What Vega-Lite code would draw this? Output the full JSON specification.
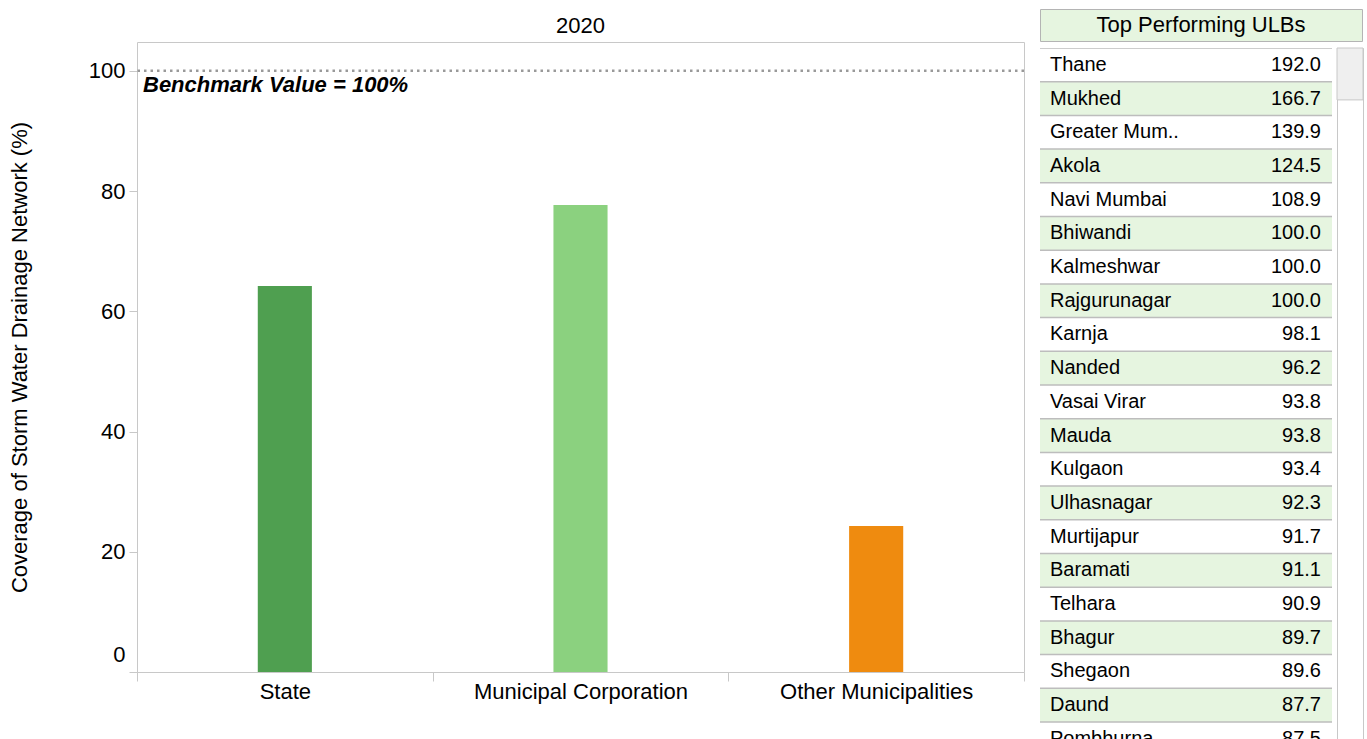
{
  "$schema": "https://vega.github.io/schema/vega-lite/v6.json",
  "padding": {"left": 7, "top": 8, "right": 0, "bottom": 0},
  "background": "white",
  "config": {
    "font": "Liberation Sans",
    "view": {"stroke": null},
    "text": {"color": "black"}
  },
  "datasets": {
    "bars": [
      {"category": "State", "value": 64.2},
      {"category": "Municipal Corporation", "value": 77.7},
      {"category": "Other Municipalities", "value": 24.3}
    ],
    "ulbs": [
      {"rank": 1, "name": "Thane", "value": 192.0},
      {"rank": 2, "name": "Mukhed", "value": 166.7},
      {"rank": 3, "name": "Greater Mum..", "value": 139.9},
      {"rank": 4, "name": "Akola", "value": 124.5},
      {"rank": 5, "name": "Navi Mumbai", "value": 108.9},
      {"rank": 6, "name": "Bhiwandi", "value": 100.0},
      {"rank": 7, "name": "Kalmeshwar", "value": 100.0},
      {"rank": 8, "name": "Rajgurunagar", "value": 100.0},
      {"rank": 9, "name": "Karnja", "value": 98.1},
      {"rank": 10, "name": "Nanded", "value": 96.2},
      {"rank": 11, "name": "Vasai Virar", "value": 93.8},
      {"rank": 12, "name": "Mauda", "value": 93.8},
      {"rank": 13, "name": "Kulgaon", "value": 93.4},
      {"rank": 14, "name": "Ulhasnagar", "value": 92.3},
      {"rank": 15, "name": "Murtijapur", "value": 91.7},
      {"rank": 16, "name": "Baramati", "value": 91.1},
      {"rank": 17, "name": "Telhara", "value": 90.9},
      {"rank": 18, "name": "Bhagur", "value": 89.7},
      {"rank": 19, "name": "Shegaon", "value": 89.6},
      {"rank": 20, "name": "Daund", "value": 87.7},
      {"rank": 21, "name": "Pombhurna", "value": 87.5}
    ]
  },
  "hconcat": [
    {
      "vconcat": [
        {
          "width": 887,
          "height": 33,
          "data": {"values": [{"year": "2020"}]},
          "mark": {"type": "text", "fontSize": 22, "color": "black"},
          "encoding": {"text": {"field": "year", "type": "nominal"}}
        },
        {
          "width": 887,
          "height": 630,
          "view": {"stroke": "#c8c8c8"},
          "layer": [
            {
              "data": {"name": "bars"},
              "mark": {"type": "bar", "width": {"band": 0.183}},
              "encoding": {
                "x": {
                  "field": "category", "type": "nominal", "sort": null,
                  "scale": {"paddingInner": 0, "paddingOuter": 0},
                  "axis": {"labelAngle": 0, "labelFontSize": 22, "labelColor": "black", "labelLimit": 0, "tickBand": "extent", "tickSize": 9, "tickColor": "#c8c8c8", "domainColor": "#c8c8c8", "labelPadding": 0, "title": null}
                },
                "y": {
                  "field": "value", "type": "quantitative",
                  "title": "Coverage of Storm Water Drainage Network (%)",
                  "scale": {"domain": [0, 104.8], "nice": false},
                  "axis": {"values": [0, 20, 40, 60, 80, 100], "labelFontSize": 22, "labelColor": "black", "tickSize": 8, "tickColor": "#c8c8c8", "domain": false, "grid": false, "labelPadding": 4, "labelFlush": true, "labelFlushOffset": -6, "titleFontSize": 22, "titleFontWeight": "normal", "titleColor": "black", "titlePadding": 57}
                },
                "color": {
                  "field": "category", "type": "nominal",
                  "scale": {"domain": ["State", "Municipal Corporation", "Other Municipalities"], "range": ["#4f9f50", "#8bd17f", "#ef8b0f"]},
                  "legend": null
                }
              }
            },
            {
              "data": {"values": [{"benchmark": 100, "label": "Benchmark Value = 100%"}]},
              "mark": {"type": "rule", "color": "#999999", "strokeWidth": 2.5, "strokeDash": [2.5, 4]},
              "encoding": {"y": {"field": "benchmark", "type": "quantitative", "title": "Coverage of Storm Water Drainage Network (%)"}}
            },
            {
              "data": {"values": [{"benchmark": 100, "label": "Benchmark Value = 100%"}]},
              "mark": {"type": "text", "align": "left", "baseline": "top", "dx": 6, "dy": 4, "fontSize": 22, "fontWeight": "bold", "fontStyle": "italic", "color": "black"},
              "encoding": {
                "y": {"field": "benchmark", "type": "quantitative", "title": "Coverage of Storm Water Drainage Network (%)"},
                "x": {"value": 0},
                "text": {"field": "label", "type": "nominal"}
              }
            }
          ]
        }
      ],
      "spacing": 0,
      "bounds": "flush"
    },
    {
      "vconcat": [
        {
          "width": 322,
          "height": 32,
          "view": {"stroke": "#b4b4b4", "fill": "#e6f5e0"},
          "data": {"values": [{"title": "Top Performing ULBs"}]},
          "mark": {"type": "text", "fontSize": 22, "color": "black"},
          "encoding": {"text": {"field": "title", "type": "nominal"}}
        },
        {
          "hconcat": [
            {
              "width": 292,
              "height": 692,
              "data": {"name": "ulbs"},
              "layer": [
                {
                  "mark": {"type": "rect", "clip": true},
                  "encoding": {
                    "y": {"field": "name", "type": "nominal", "sort": null, "axis": null, "scale": {"range": [0, 707.7], "paddingInner": 0, "paddingOuter": 0}},
                    "color": {"condition": {"test": "datum.rank % 2 === 0", "value": "#e6f5e0"}, "value": "white"}
                  }
                },
                {
                  "mark": {"type": "rule", "clip": true, "color": "#bdbdbd", "strokeWidth": 1.5},
                  "encoding": {"y": {"field": "name", "type": "nominal", "sort": null, "bandPosition": 0}}
                },
                {
                  "mark": {"type": "text", "clip": true, "align": "left", "dx": 10, "fontSize": 20, "color": "black"},
                  "encoding": {
                    "y": {"field": "name", "type": "nominal", "sort": null},
                    "x": {"value": 0},
                    "text": {"field": "name", "type": "nominal"}
                  }
                },
                {
                  "mark": {"type": "text", "clip": true, "align": "right", "dx": -11, "fontSize": 20, "color": "black"},
                  "encoding": {
                    "y": {"field": "name", "type": "nominal", "sort": null},
                    "x": {"value": "width"},
                    "text": {"field": "value", "type": "quantitative", "format": ".1f"}
                  }
                }
              ]
            },
            {
              "width": 26,
              "height": 692,
              "view": {"stroke": "#c8c8c8"},
              "data": {"values": [{"start": 0, "end": 0.075}]},
              "mark": {"type": "rect", "fill": "#efefef", "stroke": "#c8c8c8"},
              "encoding": {
                "y": {"field": "start", "type": "quantitative", "scale": {"domain": [0, 1], "reverse": true}, "axis": null},
                "y2": {"field": "end"}
              }
            }
          ],
          "spacing": 4
        }
      ],
      "spacing": 5
    }
  ],
  "spacing": 13
}
